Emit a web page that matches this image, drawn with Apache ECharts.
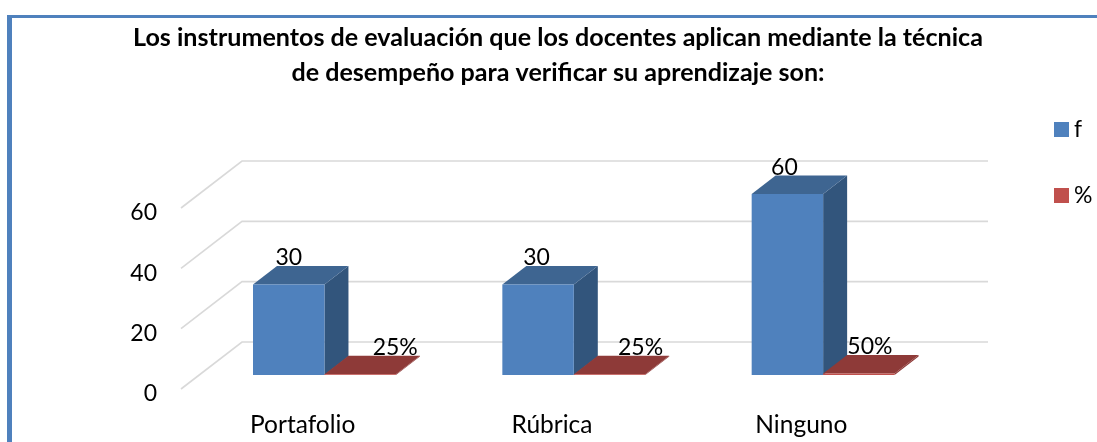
<!DOCTYPE html>
<html><head><meta charset="utf-8">
<style>html,body{margin:0;padding:0;background:#fff}#c{width:1097px;height:442px}</style>
<script src="https://cdn.jsdelivr.net/npm/echarts@6/dist/echarts.min.js"></script>
</head><body><div id="c"></div>
<script>
const categories = ['Portafolio', 'Rúbrica', 'Ninguno'];
const fValues = [30, 30, 60];
const pctValues = [0.25, 0.25, 0.5];
const yTicks = [0, 20, 40, 60];
const titleLines = 'Los instrumentos de evaluación que los docentes aplican mediante la técnica\nde desempeño para verificar su aprendizaje son:';

// layout of the pseudo-3D view (pixels)
const FONT = 'Lato';
const BAR_SHIFT = [18.8, -14];     // bars stand this far into the floor
const BAR_DEPTH = [24, -18.5];     // depth of one bar
const WALL = [61, -47];            // front edge of floor -> back wall
const BAR_FRAC = 0.2866;           // bar width as a share of the category band
const fLabelNudge = [0, -1.5, -3];
const pctLabelNudge = [35, 31, 11];

function renderBar(side, colors, fmt, nudge, labelDy) {
  return function (params, api) {
    const i = api.value(0), v = api.value(1);
    const band = api.size([1, 0])[0], w = band * BAR_FRAC;
    const base = api.coord([i, 0]), top = api.coord([i, v]);
    const x0 = base[0] + BAR_SHIFT[0] + (side < 0 ? -w : 0), x1 = x0 + w;
    const yb = base[1] + BAR_SHIFT[1], yt = top[1] + BAR_SHIFT[1];
    const dx = BAR_DEPTH[0], dy = BAR_DEPTH[1];
    const poly = (pts, fill) => ({ type: 'polygon', shape: { points: pts }, style: { fill: fill } });
    return {
      type: 'group',
      children: [
        poly([[x1, yb], [x1 + dx, yb + dy], [x1 + dx, yt + dy], [x1, yt]], colors.side),
        poly([[x0, yt], [x0 + dx, yt + dy], [x1 + dx, yt + dy], [x1, yt]], colors.top),
        poly([[x0, yb], [x1, yb], [x1, yt], [x0, yt]], colors.front),
        { type: 'text', style: {
            text: fmt(v), x: (x0 + x1) / 2 + nudge[i], y: yt + dy + labelDy,
            fill: '#000', fontFamily: FONT, fontSize: 23, align: 'center', verticalAlign: 'middle' } }
      ]
    };
  };
}

const chart = echarts.init(document.getElementById('c'), null, { renderer: 'canvas' });
chart.setOption({
  animation: false,
  backgroundColor: '#fff',
  title: {
    text: titleLines, left: 553, top: 15, textAlign: 'center',
    textStyle: { fontFamily: FONT, fontWeight: 'bold', fontSize: 25.1, lineHeight: 35, color: '#000' }
  },
  legend: {
    orient: 'vertical', left: 1054, top: 118, padding: 0, itemWidth: 15, itemHeight: 15, itemGap: 43,
    icon: 'rect', data: ['f', '%'],
    textStyle: { fontFamily: FONT, fontSize: 23, color: '#000' }
  },
  grid: { left: 181, width: 748, top: 208, height: 181 },
  xAxis: {
    type: 'category', data: categories,
    axisLine: { show: false }, axisTick: { show: false },
    axisLabel: { fontFamily: FONT, fontSize: 24.5, color: '#000', margin: 24, padding: [0, 6, 0, 0] }
  },
  yAxis: {
    type: 'value', min: 0, max: 60, interval: 20,
    axisLine: { show: false }, axisTick: { show: false }, splitLine: { show: false },
    axisLabel: { fontFamily: FONT, fontSize: 23, color: '#000', margin: 24, verticalAlign: 'top', lineHeight: 10 }
  },
  series: [
    {
      type: 'custom', name: 'walls', silent: true, z: 1, legendHoverLink: false,
      data: yTicks.map(v => [0, v]),
      encode: { x: 0, y: 1 },
      renderItem(params, api) {
        const c = params.coordSys, y = api.coord([0, api.value(1)])[1];
        return { type: 'polyline',
          shape: { points: [[c.x, y], [c.x + WALL[0], y + WALL[1]], [c.x + c.width + 59, y + WALL[1]]] },
          style: { stroke: '#D9D9D9', lineWidth: 1.6, fill: null } };
      }
    },
    {
      type: 'custom', name: 'f', z: 2, itemStyle: { color: '#4F81BD' },
      data: fValues.map((v, i) => [i, v]), encode: { x: 0, y: 1 },
      renderItem: renderBar(-1, { front: '#4F81BD', top: '#3E6591', side: '#32557C' }, v => String(v), fLabelNudge, -8)
    },
    {
      type: 'custom', name: '%', z: 2, itemStyle: { color: '#C0504D' },
      data: pctValues.map((v, i) => [i, v]), encode: { x: 0, y: 1 },
      renderItem: renderBar(1, { front: '#C0504D', top: '#8E3A38', side: '#8E3A38' }, v => Math.round(v * 100) + '%', pctLabelNudge, -8)
    }
  ],
  graphic: [
    { type: 'rect', silent: true, shape: { x: 7, y: 15, width: 5, height: 427 }, style: { fill: '#4F81BD' } },
    { type: 'rect', silent: true, shape: { x: 7, y: 15, width: 1090, height: 3 }, style: { fill: '#4F81BD' } }
  ]
});
</script></body></html>
